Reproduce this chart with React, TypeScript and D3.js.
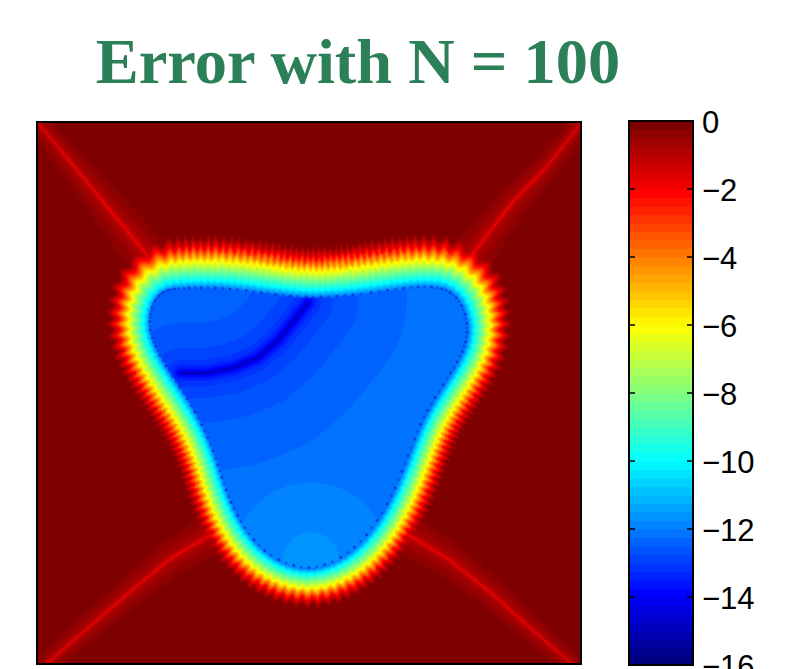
import React, { useMemo } from 'react';
import * as d3 from 'd3';

const title = 'Error with N = 100';
const colorTicks = [0, -2, -4, -6, -8, -10, -12, -14, -16];

// jet colormap anchors
const jetLevels = [-16, -14, -10, -6, -2, 0];
const jetColors = ['#00007f', '#0000ff', '#00ffff', '#ffff00', '#ff0000', '#7f0000'];

// inner edge of the colored band, plot coordinates [-1, 1]
const edgeX = [-0.474, -0.327, -0.162, -0.015, 0.151, 0.335, 0.482, 0.555, 0.588, 0.574, 0.5, 0.415, 0.357, 0.283, 0.169, 0.004, -0.162, -0.261, -0.313, -0.353, -0.419, -0.504, -0.566, -0.592, -0.577, -0.537];
const edgeY = [0.387, 0.391, 0.369, 0.351, 0.358, 0.387, 0.399, 0.351, 0.251, 0.159, 0.041, -0.092, -0.255, -0.432, -0.587, -0.668, -0.601, -0.469, -0.339, -0.203, -0.063, 0.063, 0.166, 0.251, 0.332, 0.38];
const edgeBand = [1, 1, 1, 0.95, 1, 1, 1, 0.95, 0.8, 0.78, 0.78, 0.75, 0.75, 0.75, 0.75, 0.74, 0.75, 0.75, 0.75, 0.75, 0.78, 0.8, 0.8, 0.8, 0.85, 0.95];

// level against distance (px) outward from that edge
const bandDist = [0, 8, 18, 27, 34, 41, 46, 52];
const bandLevel = [-12.2, -10, -8, -6, -4, -2, -1, -0.1];
const spikeSpacing = 6.6;

// dark arc inside the blue area
const arcX = [-0.007, -0.059, -0.118, -0.191, -0.279, -0.375, -0.474];
const arcY = [0.336, 0.269, 0.196, 0.133, 0.096, 0.077, 0.077];
const arcDist = [0, 1.5, 3.5, 7, 15, 35, 65, 110];
const arcLevel = [-15, -14.4, -13.8, -13.3, -12.9, -12.6, -12.4, -12.2];

// lighter lobe at the bottom of the blue area
const lobeCenter = [0.004, -0.616];
const lobeDist = [0, 28, 29, 78, 79];
const lobeLevel = [-11.6, -11.6, -11.9, -11.9, -12.2];

// red lines running into the corners
const rayXs = [
  [-1, -0.798, -0.596],
  [1, 0.868, 0.75, 0.636, 0.585],
  [-0.971, -0.842, -0.669, -0.522, -0.39, -0.335],
  [0.967, 0.831, 0.665, 0.518, 0.379, 0.327],
];
const rayYs = [
  [1, 0.756, 0.509],
  [1, 0.834, 0.712, 0.565, 0.498],
  [-1, -0.886, -0.738, -0.616, -0.535, -0.506],
  [-1, -0.882, -0.734, -0.616, -0.531, -0.506],
];
const rayDist = [0, 1, 2.5, 6, 14, 26];
const rayLevel = [-2, -1.5, -1, -0.7, -0.4, -0.1];

const plot = { left: 37, right: 581, top: 122, bottom: 664 };
const bar = { left: 629, right: 693, top: 121, bottom: 665 };
const step = 1.5;

const x = d3.scaleLinear().domain([-1, 1]).range([plot.left, plot.right]);
const y = d3.scaleLinear().domain([-1, 1]).range([plot.bottom, plot.top]);
const barY = d3.scaleLinear().domain([0, -16]).range([bar.top, bar.bottom]);
const jet = d3.scaleLinear<string>().domain(jetLevels).range(jetColors).interpolate(d3.interpolateRgb.gamma(1));

const bandScale = d3.scaleLinear().domain(bandDist).range(bandLevel).clamp(true);
const arcScale = d3.scaleLinear().domain(arcDist).range(arcLevel).clamp(true);
const lobeScale = d3.scaleLinear().domain(lobeDist).range(lobeLevel).clamp(true);
const rayScale = d3.scaleLinear().domain(rayDist).range(rayLevel).clamp(true);

// 64 colormap steps, same as the colorbar
const thresholds = d3.range(64).map(i => -16 + i * 0.25);
const stepColor = t => jet(-16 + (((t + 16) / 0.25) * 16) / 63);

function segDist(px, py, ax, ay, bx, by) {
  const dx = bx - ax, dy = by - ay;
  const t = Math.max(0, Math.min(1, ((px - ax) * dx + (py - ay) * dy) / (dx * dx + dy * dy)));
  return [Math.hypot(px - ax - t * dx, py - ay - t * dy), t];
}

function polyDist(px, py, xs, ys) {
  let best = Infinity, pos = 0;
  for (let i = 0; i < xs.length - 1; i++) {
    const [d, t] = segDist(px, py, xs[i], ys[i], xs[i + 1], ys[i + 1]);
    if (d < best) { best = d; pos = (i + t) / (xs.length - 1); }
  }
  return [best, pos];
}

function buildField() {
  const ix = d3.interpolateBasisClosed(edgeX.map(v => x(v)));
  const iy = d3.interpolateBasisClosed(edgeY.map(v => y(v)));
  const ib = d3.interpolateBasisClosed(edgeBand);
  const count = 900;
  const ex = new Float64Array(count), ey = new Float64Array(count), eb = new Float64Array(count), es = new Float64Array(count);
  const poly: [number, number][] = [];
  for (let i = 0; i < count; i++) {
    ex[i] = ix(i / count);
    ey[i] = iy(i / count);
    eb[i] = ib(i / count);
    es[i] = i === 0 ? 0 : es[i - 1] + Math.hypot(ex[i] - ex[i - 1], ey[i] - ey[i - 1]);
    poly.push([ex[i], ey[i]]);
  }
  const perimeter = es[count - 1] + Math.hypot(ex[0] - ex[count - 1], ey[0] - ey[count - 1]);
  const spikes = Math.round(perimeter / spikeSpacing);

  const arcPx = arcX.map(v => x(v)), arcPy = arcY.map(v => y(v));
  const lobeX = x(lobeCenter[0]), lobeY = y(lobeCenter[1]);
  const raysPx = rayXs.map(r => r.map(v => x(v)));
  const raysPy = rayYs.map(r => r.map(v => y(v)));

  const n = Math.ceil((plot.right - plot.left) / step) + 1;
  const m = Math.ceil((plot.bottom - plot.top) / step) + 1;
  const values = new Float64Array(n * m);
  for (let j = 0; j < m; j++) {
    for (let i = 0; i < n; i++) {
      const px = plot.left + i * step, py = plot.top + j * step;
      let best = Infinity, near = 0;
      for (let k = 0; k < count; k++) {
        const dx = px - ex[k], dy = py - ey[k];
        const dd = dx * dx + dy * dy;
        if (dd < best) { best = dd; near = k; }
      }
      const d = Math.sqrt(best);
      let value;
      if (d3.polygonContains(poly, [px, py])) {
        const [da] = polyDist(px, py, arcPx, arcPy);
        const dl = Math.hypot(px - lobeX, py - lobeY);
        value = arcScale(da);
        if (dl < lobeDist[lobeDist.length - 1]) value = Math.max(value, lobeScale(dl));
      } else {
        const dn = d / eb[near];
        const phase = (2 * Math.PI * es[near] * spikes) / perimeter;
        const amp = 0.3 + 0.06 * dn;
        value = bandScale(Math.max(0, dn + amp * Math.cos(phase)));
        for (let r = 0; r < raysPx.length; r++) {
          const [dr, pos] = polyDist(px, py, raysPx[r], raysPy[r]);
          // glow narrows toward the corner
          value = Math.min(value, rayScale(dr / (0.5 + 0.6 * pos)));
        }
      }
      values[j * n + i] = value;
    }
  }

  const contours = d3.contours().size([n, m]).thresholds(thresholds)(values as any);
  const path = d3.geoPath();
  const bands = contours.map(c => ({ level: c.value, d: path(c) || '' }));

  // darker specks sitting on the inner edge
  const specks: [number, number][] = d3.range(spikes).map(i => {
    const k = Math.floor((i / spikes) * count);
    return [ex[k], ey[k]];
  });
  return { bands, specks };
}

export default function App() {
  const { bands, specks } = useMemo(buildField, []);

  return (
    <svg width={790} height={669} style={{ position: 'absolute', left: 0, top: 0, display: 'block' }}>
      <defs>
        <clipPath id="plot-clip">
          <rect x={plot.left} y={plot.top} width={plot.right - plot.left} height={plot.bottom - plot.top} />
        </clipPath>
      </defs>

      <text x={358} y={83} textAnchor="middle" fontFamily="'Liberation Serif', serif" fontWeight="bold" fontSize={64.4} fill="#2c8058">
        {title}
      </text>

      <g clipPath="url(#plot-clip)">
        <rect x={plot.left} y={plot.top} width={plot.right - plot.left} height={plot.bottom - plot.top} fill={stepColor(-0.25)} />
        <g transform={`translate(${plot.left},${plot.top}) scale(${step})`}>
          {bands.map(b => (
            <path key={b.level} d={b.d} fill={stepColor(b.level)} />
          ))}
        </g>
        {specks.map((p, i) => (
          <circle key={i} cx={p[0]} cy={p[1]} r={1.5} fill="#0038e0" opacity={i % 2 ? 0.9 : 0.55} />
        ))}
      </g>
      <rect x={plot.left} y={plot.top} width={plot.right - plot.left} height={plot.bottom - plot.top} fill="none" stroke="#000" strokeWidth={2} />

      {thresholds.map(t => (
        <rect
          key={t}
          x={bar.left}
          y={barY(t + 0.25)}
          width={bar.right - bar.left}
          height={barY(t) - barY(t + 0.25) + 0.5}
          fill={stepColor(t)}
        />
      ))}
      <rect x={bar.left} y={bar.top} width={bar.right - bar.left} height={bar.bottom - bar.top} fill="none" stroke="#000" strokeWidth={2} />
      {colorTicks.slice(1, -1).map(t => (
        <g key={t} stroke="#000" strokeWidth={1.5}>
          <line x1={bar.left} x2={bar.left + 6} y1={barY(t)} y2={barY(t)} />
          <line x1={bar.right - 6} x2={bar.right} y1={barY(t)} y2={barY(t)} />
        </g>
      ))}
      {colorTicks.map(t => (
        <text key={t} x={702} y={barY(t) + 11.5} fontFamily="'Liberation Sans', sans-serif" fontSize={31} fill="#000">
          {t === 0 ? '0' : `\u2212${-t}`}
        </text>
      ))}
    </svg>
  );
}
